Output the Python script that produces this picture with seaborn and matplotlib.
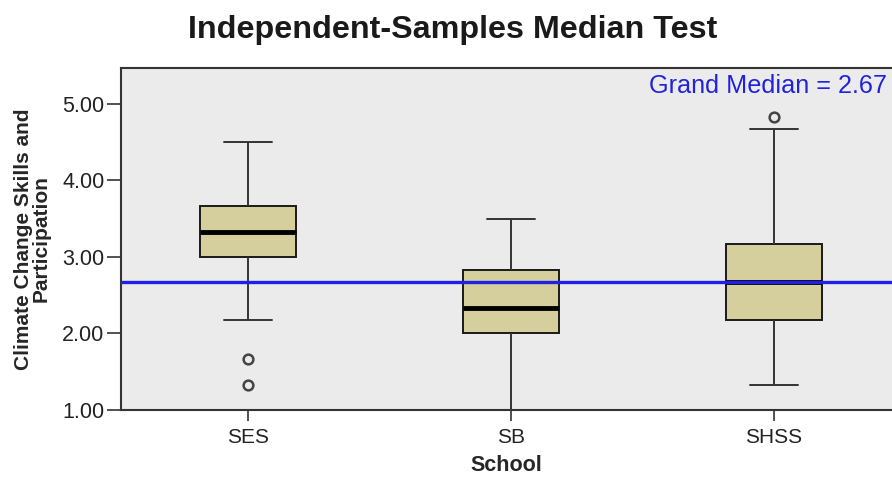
import numpy as np
import pandas as pd
import matplotlib
matplotlib.use("Agg")
import matplotlib.pyplot as plt
import seaborn as sns

# scores per school (13 values each, so quartiles land on data points)
schools = ["SES", "SB", "SHSS"]
ses_scores = [1.33, 1.67, 2.17, 3.00, 3.17, 3.17, 3.33, 3.50, 3.50, 3.67, 4.00, 4.17, 4.50]
sb_scores = [1.00, 1.33, 1.67, 2.00, 2.17, 2.17, 2.33, 2.50, 2.67, 2.83, 3.00, 3.17, 3.50]
shss_scores = [1.33, 1.67, 2.00, 2.17, 2.33, 2.50, 2.67, 2.83, 3.00, 3.17, 3.50, 4.67, 4.83]
grand_median = 2.67
y_ticks = [1.00, 2.00, 3.00, 4.00, 5.00]

df = pd.DataFrame({
    "School": ["SES"] * len(ses_scores) + ["SB"] * len(sb_scores) + ["SHSS"] * len(shss_scores),
    "Score": ses_scores + sb_scores + shss_scores,
})

sns.set_theme(style="white")
plt.rcParams["font.family"] = ["Liberation Sans", "DejaVu Sans"]

fig = plt.figure(figsize=(8.92, 4.79), dpi=100)
ax = fig.add_axes([121 / 892, 1 - 410 / 479, 771 / 892, 342 / 479])
ax.set_facecolor("#EBEBEB")

sns.boxplot(
    data=df, x="School", y="Score", order=schools, ax=ax,
    color="#D4CF9C", saturation=1, width=0.365, whis=1.6,
    linecolor="#222222", linewidth=1.3,
    boxprops=dict(edgecolor="#1a1a1a", linewidth=1.4),
    medianprops=dict(color="black", linewidth=3.5),
    whiskerprops=dict(color="#333333", linewidth=1.4),
    capprops=dict(color="#333333", linewidth=1.4),
    flierprops=dict(marker="o", markerfacecolor="none", markeredgecolor="#444444",
                    markersize=7, markeredgewidth=1.8),
)

# grand median reference line
ax.axhline(grand_median, color="#1f1fe6", linewidth=2.4, zorder=6)
ax.text(0.9935, 0.948, f"Grand Median = {grand_median:.2f}", transform=ax.transAxes,
        ha="right", va="center", color="#2222dd", fontsize=18.2)

ax.set_xlim(-0.483, 2.449)
ax.set_ylim(1.0, 5.47)
ax.set_yticks(y_ticks)
ax.set_yticklabels([f"{v:.2f}" for v in y_ticks], fontsize=15.5, color="#222222")
ax.set_xticks(range(len(schools)))
ax.set_xticklabels(schools, fontsize=15, color="#222222")
ax.tick_params(axis="y", direction="out", length=10, width=1.2, color="#333333", pad=2, left=True)
ax.tick_params(axis="x", direction="out", length=8, width=1.2, color="#333333", pad=5, bottom=True)

ax.set_xlabel("School", fontsize=15.5, fontweight="bold", labelpad=6)
ax.set_ylabel("Climate Change Skills and\nParticipation", fontsize=15, fontweight="bold",
              labelpad=8, linespacing=0.95)

for side in ["top", "left", "bottom"]:
    ax.spines[side].set_visible(True)
    ax.spines[side].set_color("#333333")
    ax.spines[side].set_linewidth(1.5)
ax.spines["right"].set_visible(False)

fig.text(453 / 892, 1 - 30 / 479, "Independent-Samples Median Test", ha="center", va="center",
         fontsize=23.2, fontweight="bold", color="#1a1a1a")

fig.savefig("out.png", dpi=100)
